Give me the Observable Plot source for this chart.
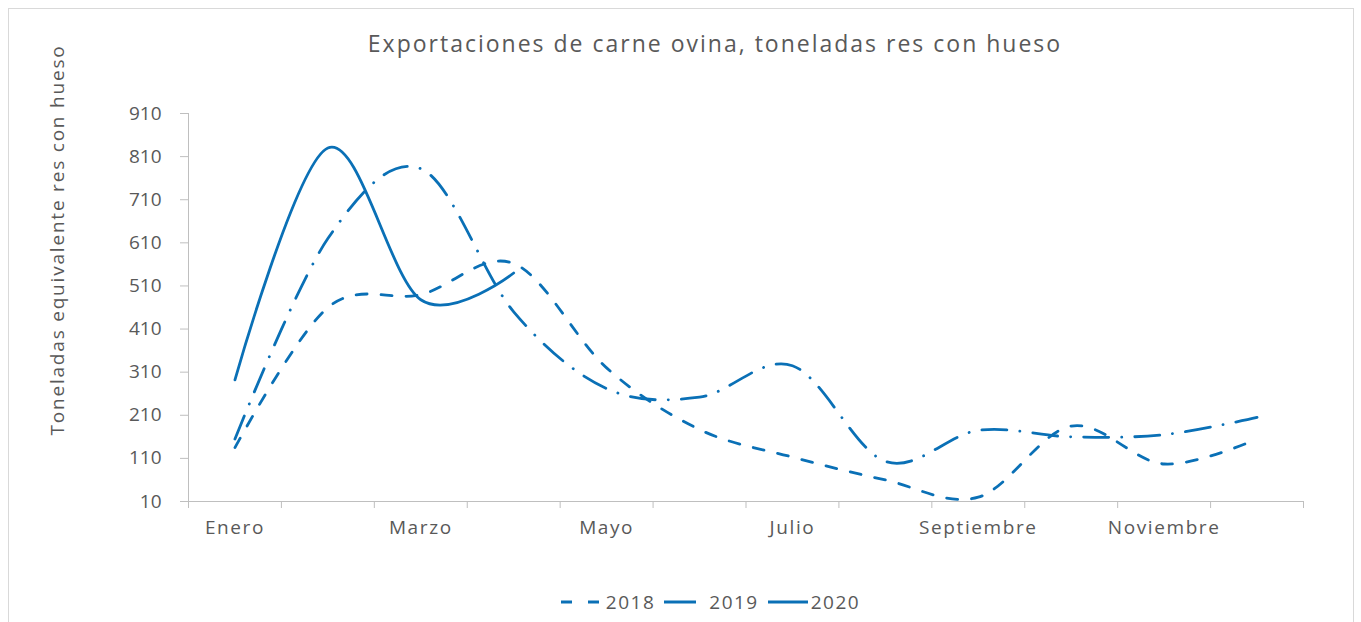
<!DOCTYPE html>
<html><head><meta charset="utf-8">
<script src="https://cdn.jsdelivr.net/npm/d3@7"></script>
<script src="https://cdn.jsdelivr.net/npm/@observablehq/plot@0.6"></script>
<style>
body{margin:0;background:#fff;font-family:"Open Sans",sans-serif;color:#595959;width:1361px;height:622px;overflow:hidden;position:relative;}
#frame{position:absolute;left:8px;top:8px;width:1346px;height:640px;border:1px solid #d9d9d9;box-sizing:border-box;}
#title{position:absolute;left:0;top:27px;width:1430px;text-align:center;font-size:23px;letter-spacing:2px;color:#595959;}
#ytitle{position:absolute;left:57px;top:240px;transform:translate(-50%,-50%) rotate(-90deg);white-space:nowrap;font-size:19px;letter-spacing:1.8px;color:#595959;}
#chart{position:absolute;left:0;top:70px;}
#legend{position:absolute;top:589px;left:0;width:1420px;display:flex;justify-content:center;align-items:center;font-size:19px;letter-spacing:1.5px;color:#595959;}
#legend .item{display:flex;align-items:center;margin:0 4px;}
#legend svg{margin-right:2px;}
</style>
</head><body>
<div id="frame"></div>
<div id="title"></div>
<div id="ytitle"></div>
<div id="chart"></div>
<div id="legend"></div>
<script>
const titleText = "Exportaciones de carne ovina, toneladas res con hueso";
const yTitle = "Toneladas equivalente res con hueso";
const months = ["Enero","Febrero","Marzo","Abril","Mayo","Junio","Julio","Agosto","Septiembre","Octubre","Noviembre","Diciembre"];
const yTicks = [10,110,210,310,410,510,610,710,810,910];
const seriesNames = ["2018","2019","2020"];
const v2018 = [135,460,490,562,320,177,113,60,20,185,97,155];
const v2019 = [155,620,782,450,272,252,325,103,175,160,165,205];
const v2020 = [292,830,478,540];

const color = "#0a70b6";
const dashes = {"2018":"11,14","2019":"25,13,0.1,13","2020":null};

document.getElementById("title").textContent = titleText;
document.getElementById("ytitle").textContent = yTitle;

const rows = [];
[v2018, v2019, v2020].forEach((vals, s) => {
  vals.forEach((v, i) => rows.push({serie: seriesNames[s], x: i + 0.5, mes: months[i], value: v}));
});

const labelTicks = months.map((m, i) => i).filter(i => i % 2 === 0).map(i => i + 0.5);

const lineMarks = seriesNames.map(name => Plot.line(rows.filter(r => r.serie === name), {
  x: "x", y: "value", stroke: color, strokeWidth: 2.8,
  strokeDasharray: dashes[name] || undefined,
  strokeLinecap: "round",
  curve: "cardinal", tension: 0
}));

const plot = Plot.plot({
  width: 1361, height: 480,
  marginTop: 43, marginBottom: 49, marginLeft: 188, marginRight: 58,
  style: {fontFamily: "'Open Sans', sans-serif", fontSize: "19px", color: "#595959", background: "transparent"},
  x: {domain: [0, 12]},
  y: {domain: [10, 910]},
  marks: [
    Plot.axisY({ticks: yTicks, tickSize: 8, tickPadding: 19, stroke: "#bfbfbf", fill: "#595959", label: null, tickFormat: d => String(d)}),
    Plot.axisX({ticks: d3.range(13), tickSize: 7, tickFormat: () => "", stroke: "#bfbfbf", label: null}),
    Plot.axisX({ticks: labelTicks, tickSize: 0, tickPadding: 19, tickFormat: d => months[Math.round(d - 0.5)], fill: "#595959", label: null, className: "xlabels"}),
    Plot.ruleX([0], {stroke: "#bfbfbf"}),
    Plot.ruleY([10], {stroke: "#bfbfbf"}),
    ...lineMarks
  ]
});
d3.select(plot).selectAll("g[aria-label='x-axis tick label'] text").style("letter-spacing", "1.6px");
document.getElementById("chart").appendChild(plot);

const legend = document.getElementById("legend");
const legendSym = {
  "2018": {w: 44, dash: 'stroke-dasharray="11,16"'},
  "2019": {w: 44, dash: 'stroke-dasharray="32,40"'},
  "2020": {w: 42, dash: ''}
};
seriesNames.forEach(name => {
  const item = document.createElement("div");
  item.className = "item";
  const s = legendSym[name];
  item.innerHTML = `<svg width="${s.w}" height="10"><line x1="1" y1="5" x2="${s.w-1}" y2="5" stroke="${color}" stroke-width="3" ${s.dash}/></svg><span>${name}</span>`;
  legend.appendChild(item);
});
</script>
</body></html>
